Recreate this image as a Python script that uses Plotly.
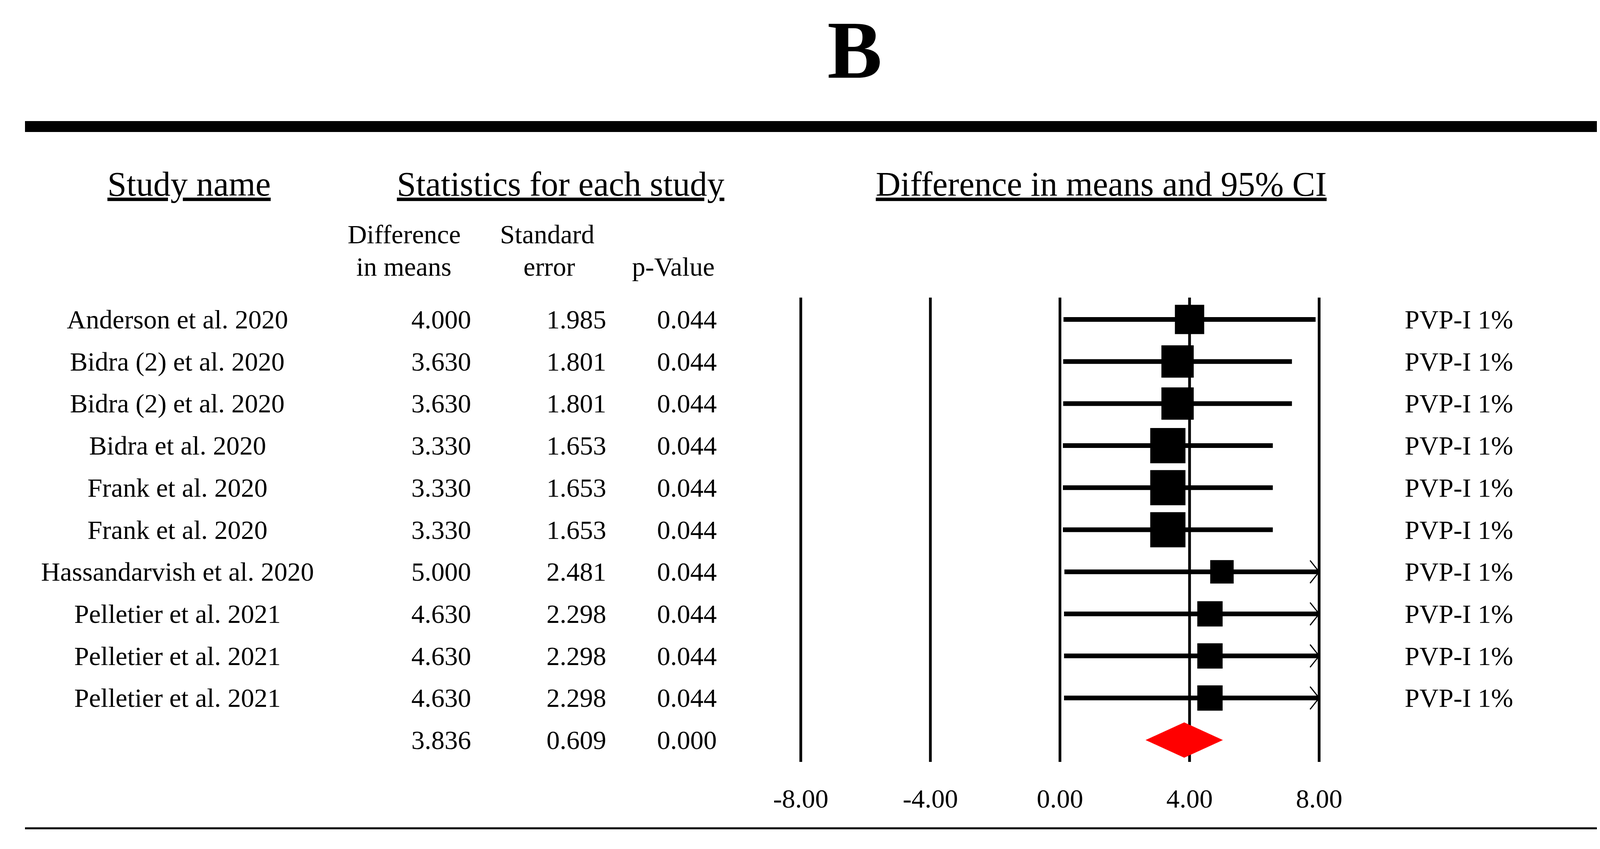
import plotly.graph_objects as go

# study table
studies = ["Anderson et al. 2020", "Bidra (2) et al. 2020", "Bidra (2) et al. 2020",
           "Bidra et al. 2020", "Frank et al. 2020", "Frank et al. 2020",
           "Hassandarvish et al. 2020", "Pelletier et al. 2021", "Pelletier et al. 2021",
           "Pelletier et al. 2021"]
diff_means = [4.000, 3.630, 3.630, 3.330, 3.330, 3.330, 5.000, 4.630, 4.630, 4.630]
std_err = [1.985, 1.801, 1.801, 1.653, 1.653, 1.653, 2.481, 2.298, 2.298, 2.298]
p_values = [0.044] * 10
groups = ["PVP-I 1%"] * 10

summary_diff = 3.836
summary_se = 0.609
summary_p = 0.000

ticks = [-8, -4, 0, 4, 8]
tick_labels = ["-8.00", "-4.00", "0.00", "4.00", "8.00"]

W, H = 4370, 2174
FONT = "Liberation Serif"
XMIN, XMAX = -8, 8


def px(x):
    return x / W


def py(y):
    return 1 - y / H


rows = list(range(1, len(studies) + 1))
sum_row = len(studies) + 1

fig = go.Figure()

# vertical grid lines at the ticks
vx, vy = [], []
for t in ticks:
    vx += [t, t, None]
    vy += [0.48, sum_row + 0.52, None]
fig.add_trace(go.Scatter(x=vx, y=vy, mode="lines", line=dict(color="black", width=7),
                         hoverinfo="skip", showlegend=False))

# confidence interval lines, clipped at the axis limit with an open arrow
lx, ly, ax_, ay_ = [], [], [], []
for r, d, se in zip(rows, diff_means, std_err):
    lo, hi = d - 1.96 * se, d + 1.96 * se
    lx += [max(lo, XMIN), min(hi, XMAX), None]
    ly += [r, r, None]
    if hi > XMAX:
        ax_ += [XMAX - 0.28, XMAX, XMAX - 0.28, None]
        ay_ += [r - 0.27, r, r + 0.27, None]
fig.add_trace(go.Scatter(x=lx, y=ly, mode="lines", line=dict(color="black", width=12),
                         hoverinfo="skip", showlegend=False))
fig.add_trace(go.Scatter(x=ax_, y=ay_, mode="lines", line=dict(color="black", width=3),
                         hoverinfo="skip", showlegend=False))

# study squares, sized by weight (1/SE)
fig.add_trace(go.Scatter(x=diff_means, y=rows, mode="markers",
                         marker=dict(symbol="square", color="black", opacity=1,
                                     size=[149 / s for s in std_err], line=dict(width=0)),
                         showlegend=False))

# summary diamond
lo, hi = summary_diff - 1.96 * summary_se, summary_diff + 1.96 * summary_se
fig.add_trace(go.Scatter(x=[lo, summary_diff, hi, summary_diff, lo],
                         y=[sum_row, sum_row - 0.42, sum_row, sum_row + 0.42, sum_row],
                         mode="lines", fill="toself", fillcolor="#ff0000",
                         line=dict(color="#ff0000", width=0), showlegend=False))

# axis tick labels
fig.add_trace(go.Scatter(x=ticks, y=[sum_row + 1.45] * len(ticks), mode="text",
                         text=tick_labels, textposition="middle center",
                         textfont=dict(family=FONT, size=68, color="black"),
                         showlegend=False))

ann = []


def label(text, x, y, size=68, xanchor="center", yref="y"):
    ann.append(dict(text=text, x=px(x), xref="paper", y=y, yref=yref,
                    xanchor=xanchor, yanchor="middle", showarrow=False,
                    font=dict(family=FONT, size=size, color="black")))


# title and headers
label("<b>B</b>", 2180, py(120), size=210, yref="paper")
label("<u>Study name</u>", 476, py(463), size=88, yref="paper")
label("<u>Statistics for each study</u>", 1427, py(463), size=88, yref="paper")
label("<u>Difference in means and 95% CI</u>", 2811, py(463), size=88, yref="paper")
label("Difference", 1026, py(592), yref="paper")
label("in means", 1026, py(675), yref="paper")
label("Standard", 1393, py(592), yref="paper")
label("error", 1398, py(675), yref="paper")
label("p-Value", 1715, py(675), yref="paper")

for r, name, d, se, p, g in zip(rows, studies, diff_means, std_err, p_values, groups):
    label(name, 446, r)
    label(f"{d:.3f}", 1200, r, xanchor="right")
    label(f"{se:.3f}", 1546, r, xanchor="right")
    label(f"{p:.3f}", 1829, r, xanchor="right")
    label(g, 3586, r, xanchor="left")

label(f"{summary_diff:.3f}", 1200, sum_row, xanchor="right")
label(f"{summary_se:.3f}", 1546, sum_row, xanchor="right")
label(f"{summary_p:.3f}", 1829, sum_row, xanchor="right")

# horizontal rules
shapes = [
    dict(type="line", xref="paper", yref="paper", x0=px(56), x1=px(4300),
         y0=py(316), y1=py(316), line=dict(color="black", width=28)),
    dict(type="line", xref="paper", yref="paper", x0=px(56), x1=px(4300),
         y0=py(2113), y1=py(2113), line=dict(color="black", width=5)),
]

# x: -8 at 2042px, 8 at 3369px ; y: row 1 at 810px, 107.7px per row
unit = (3369 - 2042) / 16
fig.update_layout(
    width=W, height=H,
    margin=dict(l=0, r=0, t=0, b=0),
    paper_bgcolor="white", plot_bgcolor="white",
    xaxis=dict(domain=[px(2042 - unit), px(3369 + unit)], range=[-9, 9],
               visible=False, fixedrange=True),
    yaxis=dict(domain=[0, 1], range=[1 + (H - 810) / 107.7, 1 - 810 / 107.7],
               visible=False, fixedrange=True),
    annotations=ann,
    shapes=shapes,
    showlegend=False,
)

fig.write_html("out.html")
